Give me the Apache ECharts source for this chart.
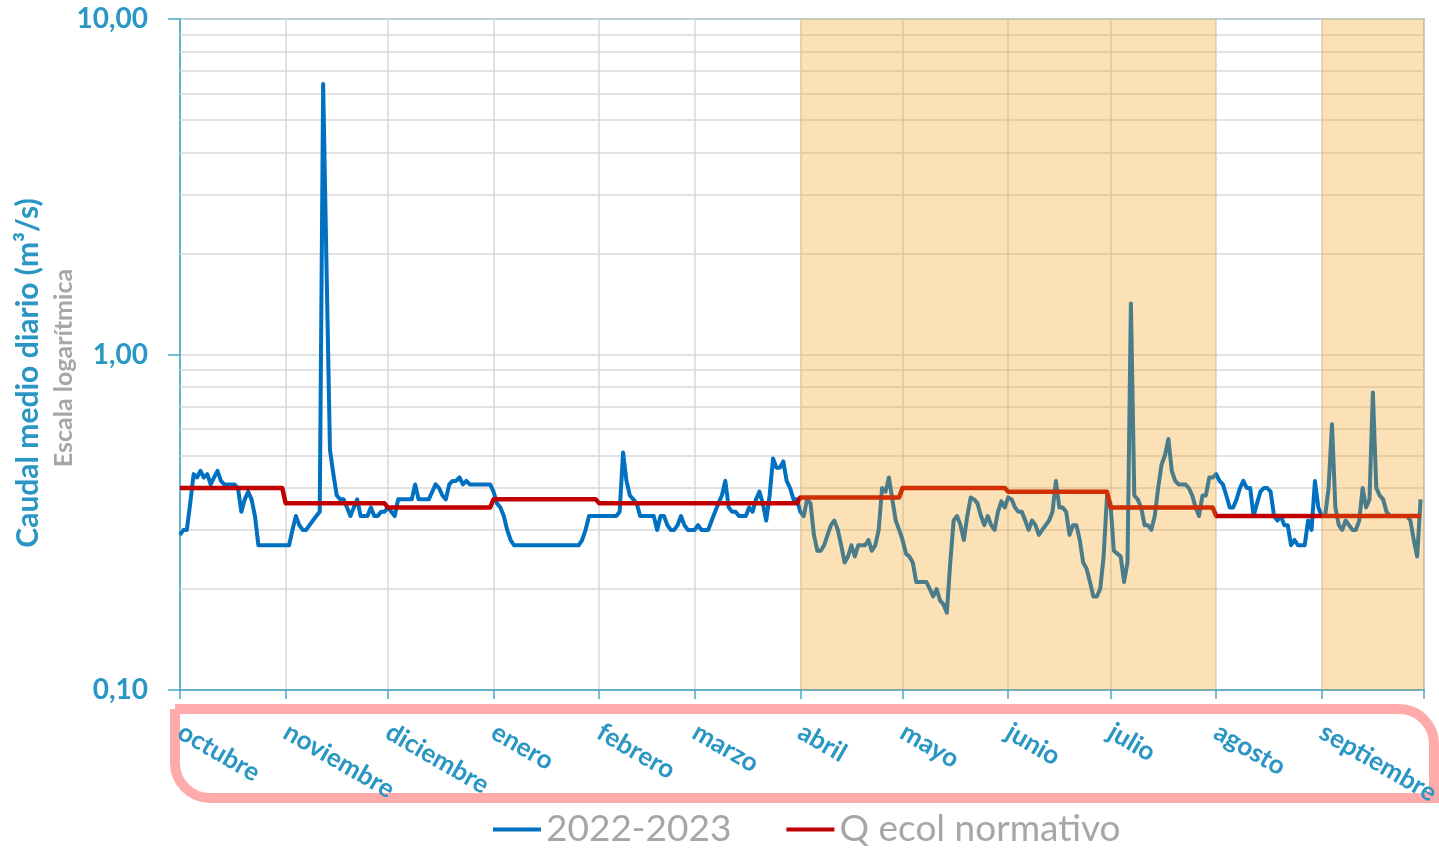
<!DOCTYPE html>
<html>
<head>
<meta charset="utf-8">
<title>Caudal medio diario 2022-2023</title>
<script src="https://cdn.jsdelivr.net/npm/echarts@6.0.0/dist/echarts.min.js"></script>
<style>
  html, body { margin: 0; padding: 0; background: #fff; }
  #chart { width: 1439px; height: 852px; }
</style>
</head>
<body>
<div id="chart"></div>
<script>
// meses del año hidrológico (oct 2022 - sep 2023)
const months = ['octubre', 'noviembre', 'diciembre', 'enero', 'febrero', 'marzo',
                'abril', 'mayo', 'junio', 'julio', 'agosto', 'septiembre'];
// día (desde 1 oct) en que empieza cada mes
const monthStartDay = [0, 31, 61, 92, 123, 151, 182, 212, 243, 273, 304, 335];
const yearEndDay = 365;

// caudal medio diario 2022-2023 (m3/s), un valor por día
const dailyFlow = [
  // octubre
  0.29, 0.30, 0.30, 0.36, 0.44, 0.43, 0.45, 0.43, 0.44, 0.41,
  0.43, 0.45, 0.42, 0.41, 0.41, 0.41, 0.41, 0.40, 0.34, 0.37,
  0.39, 0.37, 0.33, 0.27, 0.27, 0.27, 0.27, 0.27, 0.27, 0.27, 0.27,
  // noviembre
  0.27, 0.27, 0.30, 0.33, 0.31, 0.30, 0.30, 0.31, 0.32, 0.33,
  0.34, 6.40, 1.80, 0.52, 0.44, 0.38, 0.37, 0.37, 0.35, 0.33,
  0.35, 0.37, 0.33, 0.33, 0.33, 0.35, 0.33, 0.33, 0.34, 0.34,
  // diciembre
  0.35, 0.34, 0.33, 0.37, 0.37, 0.37, 0.37, 0.37, 0.41, 0.37,
  0.37, 0.37, 0.37, 0.39, 0.41, 0.40, 0.38, 0.37, 0.41, 0.42,
  0.42, 0.43, 0.41, 0.42, 0.41, 0.41, 0.41, 0.41, 0.41, 0.41, 0.41,
  // enero
  0.39, 0.36, 0.35, 0.33, 0.30, 0.28, 0.27, 0.27, 0.27, 0.27,
  0.27, 0.27, 0.27, 0.27, 0.27, 0.27, 0.27, 0.27, 0.27, 0.27,
  0.27, 0.27, 0.27, 0.27, 0.27, 0.27, 0.28, 0.30, 0.33, 0.33, 0.33,
  // febrero
  0.33, 0.33, 0.33, 0.33, 0.33, 0.33, 0.34, 0.51, 0.42, 0.38,
  0.37, 0.36, 0.33, 0.33, 0.33, 0.33, 0.33, 0.30, 0.33, 0.33,
  0.31, 0.30, 0.30, 0.31, 0.33, 0.31, 0.30, 0.30,
  // marzo
  0.30, 0.31, 0.30, 0.30, 0.30, 0.32, 0.34, 0.36, 0.38, 0.42,
  0.35, 0.34, 0.34, 0.33, 0.33, 0.33, 0.35, 0.34, 0.37, 0.39,
  0.36, 0.32, 0.38, 0.49, 0.46, 0.46, 0.48, 0.42, 0.40, 0.37, 0.37,
  // abril
  0.34, 0.33, 0.37, 0.36, 0.29, 0.26, 0.26, 0.27, 0.29, 0.31,
  0.32, 0.30, 0.27, 0.24, 0.25, 0.27, 0.25, 0.27, 0.27, 0.27,
  0.28, 0.26, 0.27, 0.30, 0.40, 0.39, 0.43, 0.37, 0.32, 0.30,
  // mayo
  0.28, 0.255, 0.25, 0.24, 0.21, 0.21, 0.21, 0.21, 0.20, 0.19,
  0.20, 0.185, 0.18, 0.17, 0.24, 0.32, 0.33, 0.31, 0.28, 0.33,
  0.375, 0.37, 0.36, 0.33, 0.31, 0.33, 0.31, 0.30, 0.34, 0.365, 0.35,
  // junio
  0.375, 0.37, 0.35, 0.34, 0.34, 0.32, 0.30, 0.32, 0.31, 0.29,
  0.30, 0.31, 0.32, 0.34, 0.42, 0.35, 0.35, 0.34, 0.29, 0.31,
  0.31, 0.28, 0.24, 0.23, 0.21, 0.19, 0.19, 0.20, 0.25, 0.38,
  // julio
  0.36, 0.26, 0.255, 0.25, 0.21, 0.24, 1.42, 0.38, 0.37, 0.35,
  0.31, 0.31, 0.30, 0.33, 0.40, 0.47, 0.50, 0.56, 0.45, 0.42,
  0.41, 0.41, 0.41, 0.40, 0.38, 0.35, 0.33, 0.38, 0.38, 0.43, 0.43,
  // agosto
  0.44, 0.42, 0.41, 0.38, 0.35, 0.35, 0.37, 0.40, 0.42, 0.40,
  0.40, 0.33, 0.36, 0.39, 0.40, 0.40, 0.39, 0.33, 0.32, 0.33,
  0.31, 0.31, 0.27, 0.28, 0.27, 0.27, 0.27, 0.32, 0.30, 0.42, 0.35,
  // septiembre
  0.33, 0.33, 0.40, 0.62, 0.35, 0.31, 0.30, 0.32, 0.31, 0.30,
  0.30, 0.32, 0.40, 0.35, 0.37, 0.77, 0.40, 0.38, 0.37, 0.34,
  0.33, 0.33, 0.33, 0.33, 0.33, 0.33, 0.32, 0.28, 0.25, 0.37
];

// caudal ecológico normativo por mes (m3/s)
const qEcolMonthly = [0.40, 0.36, 0.35, 0.37, 0.36, 0.36, 0.375, 0.40, 0.39, 0.35, 0.33, 0.33];

// periodos sombreados (abril-julio y septiembre), en días
const shadedPeriods = [[182, 304], [335, 365]];

// líneas secundarias de la escala logarítmica
const minorGridValues = [0.2, 0.3, 0.4, 0.5, 0.6, 0.7, 0.8, 0.9, 2, 3, 4, 5, 6, 7, 8, 9];

const BLUE_TXT = '#2996C4';
const AXIS_BLUE = '#4AA6CC';
const GRID_GREY = '#D9D9D9';

const flowData = dailyFlow.map((v, i) => [i, v]);
const qEcolData = [];
qEcolMonthly.forEach((v, i) => {
  const start = monthStartDay[i];
  const end = (i + 1 < monthStartDay.length ? monthStartDay[i + 1] : yearEndDay) - 1;
  qEcolData.push([start, v]);
  qEcolData.push([end, v]);
});

const chart = echarts.init(document.getElementById('chart'));

chart.setOption({
  animation: false,
  backgroundColor: '#fff',
  grid: {
    left: 180, right: 15, top: 19, bottom: 162,
    outerBoundsMode: 'none',
    show: true, borderColor: AXIS_BLUE, borderWidth: 1.5
  },
  xAxis: {
    type: 'value',
    min: 0,
    max: yearEndDay,
    axisLine: { show: true, lineStyle: { color: AXIS_BLUE, width: 1.5 } },
    axisTick: {
      show: true, length: 9,
      customValues: monthStartDay.concat([yearEndDay]),
      lineStyle: { color: AXIS_BLUE, width: 1.5 }
    },
    axisLabel: {
      customValues: monthStartDay,
      formatter: v => months[monthStartDay.indexOf(v)],
      rotate: -30,
      margin: 40,
      color: BLUE_TXT,
      fontFamily: 'Lato',
      fontWeight: 'bold',
      fontSize: 26
    },
    splitLine: { show: true, lineStyle: { color: GRID_GREY, width: 1.5 } }
  },
  yAxis: {
    type: 'log',
    logBase: 10,
    min: 0.1,
    max: 10,
    axisLine: { show: true, lineStyle: { color: AXIS_BLUE, width: 1.5 } },
    axisTick: { show: true, length: 12, lineStyle: { color: AXIS_BLUE, width: 1.5 } },
    axisLabel: {
      formatter: v => Number(v).toFixed(2).replace('.', ','),
      color: BLUE_TXT,
      fontFamily: 'Lato',
      fontWeight: 'bold',
      fontSize: 28,
      margin: 32
    },
    splitLine: { show: true, lineStyle: { color: GRID_GREY, width: 1.5 } }
  },
  legend: {
    left: 493,
    top: 811,
    padding: 0,
    itemWidth: 48,
    itemHeight: 4,
    itemGap: 55,
    data: [
      { name: '2022-2023', icon: 'rect' },
      { name: 'Q ecol normativo', icon: 'rect' }
    ],
    textStyle: { color: '#A6A6A6', fontSize: 37, fontFamily: 'Lato' }
  },
  graphic: [
    {
      type: 'rect', z: -1,
      shape: { x: 175, y: 709, width: 1259, height: 89, r: [0, 35, 0, 35] },
      style: { fill: 'none', stroke: '#FFABAB', lineWidth: 10 }
    },
    {
      type: 'text', x: 28, y: 373, rotation: Math.PI / 2,
      style: {
        text: 'Caudal medio diario (m³/s)', fill: BLUE_TXT,
        font: 'bold 30px Lato', textAlign: 'center', textVerticalAlign: 'middle'
      }
    },
    {
      type: 'text', x: 64, y: 368, rotation: Math.PI / 2,
      style: {
        text: 'Escala logarítmica', fill: '#A6A6A6',
        font: 'bold 25px Lato', textAlign: 'center', textVerticalAlign: 'middle'
      }
    }
  ],
  series: [
    {
      name: '2022-2023',
      type: 'line',
      data: flowData,
      showSymbol: false,
      z: 6,
      color: '#0070C0',
      lineStyle: { width: 4, join: 'round' }
    },
    {
      name: 'Q ecol normativo',
      type: 'line',
      data: qEcolData,
      showSymbol: false,
      z: 7,
      color: '#C00000',
      lineStyle: { width: 4.5, join: 'round' }
    },
    {
      name: 'fondo',
      type: 'line',
      data: [],
      silent: true,
      markLine: {
        z: 1,
        silent: true,
        symbol: 'none',
        label: { show: false },
        lineStyle: { color: GRID_GREY, width: 1.5, type: 'solid' },
        data: minorGridValues.map(v => ({ yAxis: v }))
      },
      markArea: {
        z: 10,
        silent: true,
        itemStyle: { color: 'rgba(245,152,13,0.3)' },
        data: shadedPeriods.map(p => [{ xAxis: p[0] }, { xAxis: p[1] }])
      }
    }
  ]
});
</script>
</body>
</html>
